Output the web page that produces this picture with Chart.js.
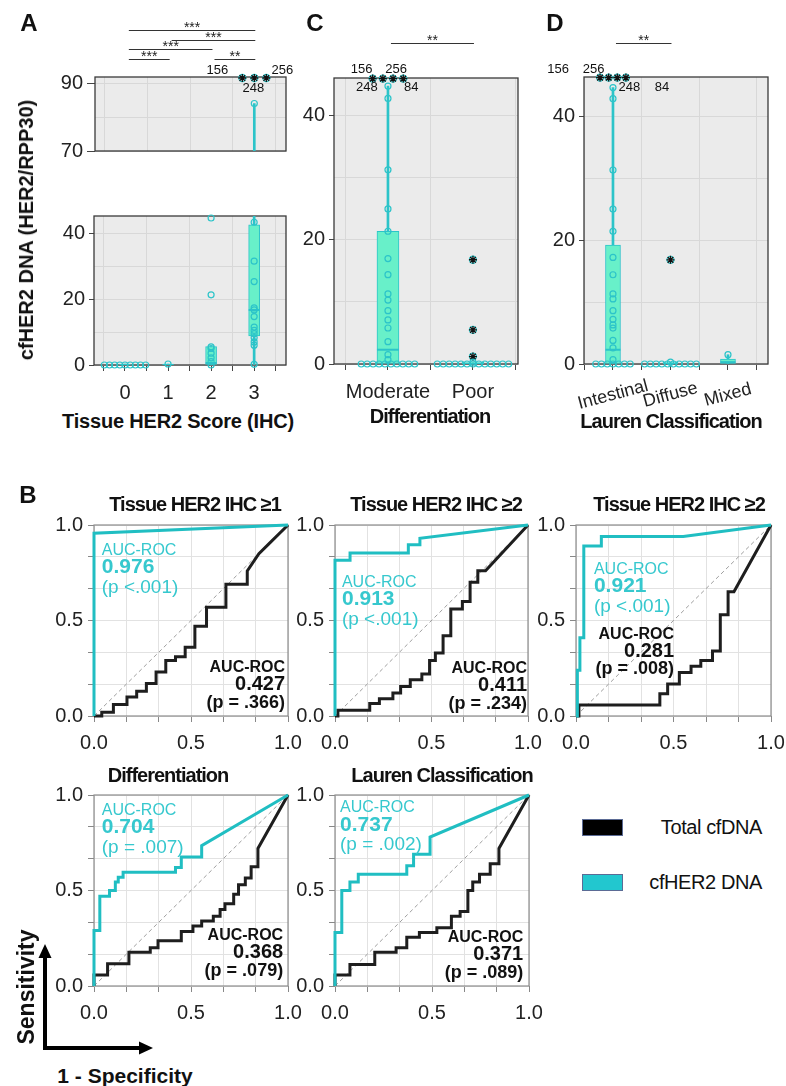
<!DOCTYPE html>
<html>
<head>
<meta charset="utf-8">
<script src="https://cdn.jsdelivr.net/npm/chart.js@4.4.1/dist/chart.umd.min.js"></script>
<style>
  html, body { margin: 0; padding: 0; background: #fff; }
  body { position: relative; width: 786px; height: 1086px; overflow: hidden; font-family: "Liberation Sans", Arial, sans-serif; color: #111; }
  canvas { position: absolute; }
  .lbl { position: absolute; white-space: nowrap; line-height: 1; transform: translate(-50%, -50%); }
</style>
</head>
<body>
<script>
// ===== Data: panel A (tissue HER2 score) =====
var A_CATS = ["0", "1", "2", "3"];
var A_Q1  = [0, 0, 0, 8.8];
var A_MED = [0, 0, 0.6, 16.7];
var A_Q3  = [0.3, 0.3, 5.6, 42.5];
var A_LO  = [0, 0, 0, 0];
var A_HI  = [0.3, 0.3, 5.6, 84];
var A_PTS = [
  [0, 0, 0, 0, 0, 0, 0, 0, 0],
  [0.3],
  [0, 1.0, 2.2, 3.6, 5.0, 5.5, 21.3, 44.6],
  [0.2, 6.0, 7.0, 8.3, 9.5, 10.5, 11.5, 14.7, 16.7, 17.3, 25.3, 31.5, 43.3, 84]
];
var A_EXT = [[], [], [], [91.5, 91.5, 91.5]];
var A_EXT_IDS = [[], [], [], ["156", "248", "256"]];
var A_SIG = [[0, 3, "***"], [1, 3, "***"], [0, 2, "***"], [0, 1, "***"], [2, 3, "**"]];
var A_X_TICKS = [-0.5, 0, 0.5, 1, 1.5, 2, 2.5, 3, 3.5];
var A_LOW_Y_TICKS = [0, 10, 20, 30, 40];
var A_LOW_Y_LABELS = ["0", "", "20", "", "40"];
var A_HIGH_Y_TICKS = [70, 80, 90];
var A_HIGH_Y_LABELS = ["70", "", "90"];

// ===== Data: panel C (differentiation) =====
var C_CATS = ["Moderate", "Poor"];
var C_Q1  = [0, 0];
var C_MED = [2.3, 0];
var C_Q3  = [21.4, 0.3];
var C_LO  = [0, 0];
var C_HI  = [44.8, 0.3];
var C_PTS = [
  [0, 0, 0, 0, 0, 0, 0, 0, 0, 0, 0.7, 1.5, 3.6, 5.8, 7.1, 8.6, 10.3, 11.3, 14.4, 17.0, 21.4, 25.0, 31.3, 42.8, 44.8],
  [0, 0, 0, 0, 0, 0, 0, 0, 0, 0, 0, 0, 0, 0.3]
];
var C_EXT = [[46, 46, 46, 46], [16.8, 5.5, 1.2]];
var C_EXT_IDS = [["156", "248", "256", "84"], []];
var C_SIG = [[0, 1, "**"]];
var C_X_TICKS = [-0.5, 0, 0.5, 1, 1.5];

// ===== Data: panel D (Lauren classification) =====
var D_CATS = ["Intestinal", "Diffuse", "Mixed"];
var D_Q1  = [0, 0, 0];
var D_MED = [2.3, 0, 0.3];
var D_Q3  = [19.2, 0.3, 0.8];
var D_LO  = [0, 0, 0];
var D_HI  = [44.6, 0.3, 1.5];
var D_PTS = [
  [0, 0, 0, 0, 0, 0, 0, 0.7, 2.6, 3.8, 5.8, 6.3, 7.2, 8.6, 10.5, 11.3, 14.4, 17.2, 21.4, 25.0, 31.3, 42.8, 44.6],
  [0, 0, 0, 0, 0, 0, 0, 0, 0, 0, 0.3],
  [1.5]
];
var D_EXT = [[46.2, 46.2, 46.2, 46.2], [16.8], []];
var D_EXT_IDS = [["156", "256", "248", "84"], [], []];
var D_SIG = [[0, 1, "**"]];
var D_X_TICKS = [-0.5, 0, 0.5, 1, 1.5, 2, 2.5];

var CD_Y_TICKS = [0, 10, 20, 30, 40];
var CD_Y_LABELS = ["0", "", "20", "", "40"];

// ===== Data: panel B (ROC curves) =====
var SERIES = ["Total cfDNA", "cfHER2 DNA"];
var ROC_TITLES = ["Tissue HER2 IHC \u22651", "Tissue HER2 IHC \u22652", "Tissue HER2 IHC \u22652", "Differentiation", "Lauren Classification"];
var AUC_CF  = [0.976, 0.913, 0.921, 0.704, 0.737];
var P_CF    = ["<.001", "<.001", "<.001", "= .007", "= .002"];
var AUC_TOT = [0.427, 0.411, 0.281, 0.368, 0.371];
var P_TOT   = ["= .366", "= .234", "= .008", "= .079", "= .089"];
var ROC_TICKS = [0, 1 / 6, 2 / 6, 0.5, 4 / 6, 5 / 6, 1];
var ROC_TICK_LABELS = ["0.0", "", "", "0.5", "", "", "1.0"];
var DIAG = [0, 1];

var CF_FPR = [
  [0, 0, 1],
  [0, 0, 0.078, 0.078, 0.38, 0.38, 0.44, 0.44, 1],
  [0, 0.007, 0.007, 0.02, 0.02, 0.04, 0.04, 0.13, 0.13, 0.55, 1],
  [0, 0, 0.03, 0.03, 0.08, 0.08, 0.11, 0.11, 0.125, 0.125, 0.15, 0.15, 0.42, 0.42, 0.45, 0.45, 0.555, 0.555, 1],
  [0, 0, 0.035, 0.035, 0.077, 0.077, 0.12, 0.12, 0.37, 0.37, 0.405, 0.405, 0.49, 0.49, 1]
];
var CF_TPR = [
  [0, 0.957, 1],
  [0, 0.816, 0.816, 0.854, 0.854, 0.897, 0.897, 0.93, 1],
  [0, 0, 0.24, 0.24, 0.41, 0.41, 0.89, 0.89, 0.94, 0.94, 1],
  [0, 0.29, 0.29, 0.47, 0.47, 0.5, 0.5, 0.545, 0.545, 0.57, 0.57, 0.595, 0.595, 0.62, 0.62, 0.675, 0.675, 0.735, 1],
  [0, 0.28, 0.28, 0.5, 0.5, 0.545, 0.545, 0.585, 0.585, 0.63, 0.63, 0.69, 0.69, 0.78, 1]
];
var TOT_FPR = [
  [0, 0.04, 0.04, 0.1, 0.1, 0.17, 0.17, 0.22, 0.22, 0.27, 0.27, 0.32, 0.32, 0.37, 0.37, 0.42, 0.42, 0.47, 0.47, 0.52, 0.52, 0.58, 0.58, 0.68, 0.68, 0.79, 0.79, 0.85, 0.9, 1],
  [0, 0.015, 0.015, 0.18, 0.18, 0.23, 0.23, 0.3, 0.3, 0.34, 0.34, 0.39, 0.39, 0.45, 0.45, 0.49, 0.49, 0.52, 0.52, 0.56, 0.56, 0.6, 0.6, 0.66, 0.66, 0.7, 0.7, 0.74, 0.74, 0.78, 1],
  [0, 0.015, 0.015, 0.43, 0.43, 0.47, 0.47, 0.53, 0.53, 0.59, 0.59, 0.64, 0.64, 0.7, 0.7, 0.74, 0.74, 0.78, 0.78, 0.81, 1],
  [0, 0, 0.07, 0.07, 0.18, 0.18, 0.29, 0.29, 0.33, 0.33, 0.45, 0.45, 0.51, 0.51, 0.555, 0.555, 0.615, 0.615, 0.65, 0.65, 0.675, 0.675, 0.72, 0.72, 0.745, 0.745, 0.78, 0.78, 0.81, 0.81, 0.845, 0.845, 1],
  [0, 0, 0.077, 0.077, 0.205, 0.205, 0.315, 0.315, 0.37, 0.37, 0.435, 0.435, 0.525, 0.525, 0.6, 0.6, 0.645, 0.645, 0.685, 0.685, 0.71, 0.71, 0.745, 0.745, 0.8, 0.8, 0.845, 0.845, 1]
];
var TOT_TPR = [
  [0, 0, 0.02, 0.02, 0.06, 0.06, 0.1, 0.1, 0.13, 0.13, 0.17, 0.17, 0.23, 0.23, 0.29, 0.29, 0.31, 0.31, 0.36, 0.36, 0.47, 0.47, 0.57, 0.57, 0.69, 0.69, 0.76, 0.85, 0.9, 1],
  [0, 0, 0.03, 0.03, 0.065, 0.065, 0.09, 0.09, 0.12, 0.12, 0.155, 0.155, 0.19, 0.19, 0.22, 0.22, 0.29, 0.29, 0.33, 0.33, 0.42, 0.42, 0.56, 0.56, 0.6, 0.6, 0.7, 0.7, 0.76, 0.76, 1],
  [0, 0, 0.057, 0.057, 0.117, 0.117, 0.168, 0.168, 0.228, 0.228, 0.26, 0.26, 0.29, 0.29, 0.34, 0.34, 0.53, 0.53, 0.65, 0.65, 1],
  [0, 0.057, 0.057, 0.117, 0.117, 0.177, 0.177, 0.2, 0.2, 0.237, 0.237, 0.285, 0.285, 0.314, 0.314, 0.34, 0.34, 0.365, 0.365, 0.4, 0.4, 0.43, 0.43, 0.48, 0.48, 0.53, 0.53, 0.565, 0.565, 0.625, 0.625, 0.72, 1],
  [0, 0.057, 0.057, 0.113, 0.113, 0.177, 0.177, 0.2, 0.2, 0.255, 0.255, 0.28, 0.28, 0.305, 0.305, 0.365, 0.365, 0.39, 0.39, 0.5, 0.5, 0.545, 0.545, 0.585, 0.585, 0.64, 0.64, 0.72, 1]
];

// ===== Styles =====
var FONT = "'Liberation Sans', Arial, sans-serif";
var CYAN = "#2CC4C9", CYAN_LINE = "#20BEC2", CYAN_TXT = "#36C8CE";
var BOX_FILL = "#68F0C9", PANEL_BG = "#EBEBEB", BOX_GRID = "#D8D8D8", ROC_GRID = "#E2E2E2";
Chart.defaults.font.family = FONT;
Chart.defaults.color = "#222";
Chart.defaults.animation = false;
Chart.defaults.plugins.legend.display = false;
Chart.defaults.plugins.tooltip.enabled = false;

function mkCanvas(box, m) {
  var c = document.createElement("canvas");
  c.width = box.w + m.l + m.r;
  c.height = box.h + m.t + m.b;
  c.style.left = (box.x - m.l) + "px";
  c.style.top = (box.y - m.t) + "px";
  c.style.width = c.width + "px";
  c.style.height = c.height + "px";
  document.body.appendChild(c);
  return c;
}

function txt(s, x, y, css, rot) {
  var d = document.createElement("div");
  d.className = "lbl";
  d.textContent = s;
  d.style.cssText += "left:" + x + "px;top:" + y + "px;" + (css || "");
  if (rot) d.style.transform = "translate(-50%,-50%) rotate(" + rot + "deg)";
  document.body.appendChild(d);
  return d;
}

// spread equal values side by side around the category centre
function swarm(vals, center, step) {
  var counts = {}, seen = {};
  vals.forEach(function (v) { counts[v] = (counts[v] || 0) + 1; });
  return vals.map(function (v) {
    seen[v] = seen[v] === undefined ? 0 : seen[v] + 1;
    return { x: center + (seen[v] - (counts[v] - 1) / 2) * step, y: v };
  });
}

function toXY(xs, ys) {
  return xs.map(function (x, i) { return { x: x, y: ys[i] }; });
}

// ===== Plugins =====
var framePlugin = {
  id: "frame",
  beforeDraw: function (chart, a, o) {
    if (!o.bg) return;
    var ar = chart.chartArea, ctx = chart.ctx;
    ctx.save();
    ctx.fillStyle = o.bg;
    ctx.fillRect(ar.left, ar.top, ar.right - ar.left, ar.bottom - ar.top);
    ctx.restore();
  },
  beforeDatasetsDraw: function (chart, a, o) {
    if (!o.color) return;
    var ar = chart.chartArea, ctx = chart.ctx;
    ctx.save();
    ctx.strokeStyle = o.color;
    ctx.lineWidth = o.width || 1;
    ctx.strokeRect(ar.left, ar.top, ar.right - ar.left, ar.bottom - ar.top);
    ctx.restore();
  }
};

var sigPlugin = {
  id: "sig",
  afterDraw: function (chart, a, o) {
    if (!o.pairs) return;
    var ctx = chart.ctx, xs = chart.scales.x, top = chart.chartArea.top;
    ctx.save();
    ctx.strokeStyle = "#333";
    ctx.fillStyle = "#222";
    ctx.lineWidth = 1;
    ctx.font = "14px " + FONT;
    ctx.textAlign = "center";
    ctx.textBaseline = "alphabetic";
    o.pairs.forEach(function (p, k) {
      var x1 = xs.getPixelForValue(p[0]) + 3, x2 = xs.getPixelForValue(p[1]) + 1, y = top + o.levels[k];
      ctx.beginPath();
      ctx.moveTo(x1, y + 0.5);
      ctx.lineTo(x2, y + 0.5);
      ctx.stroke();
      ctx.fillText(p[2], (x1 + x2) / 2, y + 2);
    });
    ctx.restore();
  }
};

var extPlugin = {
  id: "ext",
  afterDraw: function (chart, a, o) {
    if (!o.offsets) return;
    var ctx = chart.ctx, xs = chart.scales.x, ys = chart.scales.y, k = 0;
    ctx.save();
    ctx.font = "13px " + FONT;
    ctx.fillStyle = "#111";
    ctx.textAlign = "center";
    ctx.textBaseline = "middle";
    chart.data.datasets[1].data.forEach(function (p) {
      if (!p.id) return;
      var off = o.offsets[k++] || [0, -10];
      ctx.fillText(p.id, xs.getPixelForValue(p.x) + off[0], ys.getPixelForValue(p.y) + off[1]);
    });
    ctx.restore();
  }
};

var rotPlugin = {
  id: "rot",
  afterDraw: function (chart, a, o) {
    if (!o.labels) return;
    var ctx = chart.ctx, xs = chart.scales.x, b = chart.chartArea.bottom;
    ctx.save();
    ctx.font = "18px " + FONT;
    ctx.fillStyle = "#222";
    ctx.textAlign = "center";
    ctx.textBaseline = "middle";
    o.labels.forEach(function (s, i) {
      ctx.save();
      ctx.translate(xs.getPixelForValue(i), b + o.dy);
      ctx.rotate(o.angle * Math.PI / 180);
      ctx.fillText(s, 0, 0);
      ctx.restore();
    });
    ctx.restore();
  }
};

var aucPlugin = {
  id: "auc",
  afterDatasetsDraw: function (chart, a, o) {
    if (o.k === undefined) return;
    var ctx = chart.ctx, xs = chart.scales.x, ys = chart.scales.y, k = o.k;
    var cx = xs.getPixelForValue(o.cf[0]), cy = ys.getPixelForValue(o.cf[1]);
    var tx = xs.getPixelForValue(o.tot[0]), ty = ys.getPixelForValue(o.tot[1]);
    ctx.save();
    ctx.textBaseline = "middle";
    ctx.fillStyle = CYAN_TXT;
    ctx.textAlign = "left";
    ctx.font = "16px " + FONT;
    ctx.fillText("AUC-ROC", cx, cy);
    ctx.font = "bold 21px " + FONT;
    ctx.fillText(AUC_CF[k].toFixed(3), cx, cy + 17);
    ctx.font = "19px " + FONT;
    ctx.fillText("(p " + P_CF[k] + ")", cx, cy + 37);
    ctx.fillStyle = "#111";
    ctx.textAlign = "right";
    ctx.font = "bold 16px " + FONT;
    ctx.fillText("AUC-ROC", tx, ty);
    ctx.font = "bold 20px " + FONT;
    ctx.fillText(AUC_TOT[k].toFixed(3), tx, ty + 17);
    ctx.font = "bold 18px " + FONT;
    ctx.fillText("(p " + P_TOT[k] + ")", tx, ty + 35);
    ctx.restore();
  }
};

Chart.register(framePlugin, sigPlugin, extPlugin, rotPlugin, aucPlugin);

// ===== Box plot builder =====
function boxChart(box, m, cfg) {
  var canvas = mkCanvas(box, m);
  var pts = [], ext = [], boxes = [], whisk = [], meds = [];
  cfg.cats.forEach(function (c, i) {
    pts = pts.concat(swarm(cfg.pts[i], i, cfg.step));
    var vis = [], ids = [];
    cfg.ext[i].forEach(function (v, k) {
      if (v >= cfg.yMin && v <= cfg.yMax) { vis.push(v); ids.push(cfg.extIds[i][k]); }
    });
    swarm(vis, i, cfg.extStep).forEach(function (p, k) { p.id = ids[k]; ext.push(p); });
    boxes.push({ x: i, y: [cfg.q1[i], cfg.q3[i]] });
    whisk.push({ x: i, y: [cfg.lo[i], cfg.hi[i]] });
    meds.push({ x: i, y: cfg.med[i] });
  });

  return new Chart(canvas, {
    type: "bar",
    data: {
      datasets: [
        { type: "scatter", data: pts, pointStyle: "circle", pointRadius: 3, pointBorderWidth: 1.2, pointBorderColor: CYAN, pointBackgroundColor: "rgba(0,0,0,0)", clip: 4, order: 0 },
        { type: "scatter", data: ext, pointStyle: "star", pointRadius: 4, pointBorderWidth: 1.3, pointBorderColor: "#111", clip: false, order: 0 },
        { type: "scatter", data: ext, pointStyle: "circle", pointRadius: 3.5, pointBorderWidth: 1.3, pointBorderColor: CYAN, pointBackgroundColor: "rgba(0,0,0,0)", clip: false, order: 0 },
        { type: "scatter", data: meds, pointStyle: "line", pointRadius: cfg.boxW / 2, pointBorderWidth: 2, pointBorderColor: CYAN, order: 1 },
        { type: "bar", data: boxes, barThickness: cfg.boxW, backgroundColor: BOX_FILL, borderColor: CYAN, borderWidth: 1, borderSkipped: false, stack: "s", order: 2 },
        { type: "bar", data: whisk, barThickness: 2, backgroundColor: CYAN, borderWidth: 0, stack: "s", order: 3 }
      ]
    },
    options: {
      responsive: false,
      devicePixelRatio: 1,
      layout: { padding: { left: 0, right: m.r, top: m.t, bottom: 0 } },
      plugins: {
        frame: { bg: PANEL_BG, color: "#3A3A3A", width: 1.3 },
        sig: cfg.sig ? { pairs: cfg.sig, levels: cfg.sigLevels } : {},
        ext: cfg.extOffsets ? { offsets: cfg.extOffsets } : {},
        rot: cfg.rotLabels ? { labels: cfg.cats, angle: -15, dy: 31 } : {}
      },
      scales: {
        x: {
          type: "linear", min: cfg.xMin, max: cfg.xMax, offset: false,
          afterBuildTicks: function (s) { s.ticks = cfg.xTicks.map(function (v) { return { value: v }; }); },
          afterFit: function (s) { s.height = m.b; },
          border: { display: false },
          grid: {
            offset: false, drawTicks: cfg.xTickMarks, tickLength: 6, tickColor: "#444",
            color: function (c) { return c.tick && Math.abs(c.tick.value % 1) === 0.5 ? BOX_GRID : "rgba(0,0,0,0)"; }
          },
          ticks: {
            autoSkip: false, maxRotation: 0, minRotation: 0, padding: 10, font: { size: 20 }, color: "#222",
            callback: function (v) { return cfg.showCats && v % 1 === 0 ? cfg.cats[v] : ""; }
          }
        },
        y: {
          type: "linear", min: cfg.yMin, max: cfg.yMax, stacked: false,
          afterBuildTicks: function (s) { s.ticks = cfg.yTicks.map(function (v) { return { value: v }; }); },
          afterFit: function (s) { s.width = m.l; },
          border: { display: false },
          grid: {
            tickLength: cfg.yTickLen, color: BOX_GRID,
            tickColor: function (c) { return cfg.yLabels[c.index] ? "#444" : "rgba(0,0,0,0)"; }
          },
          ticks: { padding: 4, font: { size: 20 }, color: "#222", callback: function (v, i) { return cfg.yLabels[i]; } }
        }
      }
    }
  });
}

// ===== ROC builder =====
var ROC_M = { l: 56, r: 28, t: 14, b: 42 };
function rocChart(box, k, ann) {
  var canvas = mkCanvas(box, ROC_M);
  function axis(fit) {
    return {
      type: "linear", min: 0, max: 1,
      afterBuildTicks: function (s) { s.ticks = ROC_TICKS.map(function (v) { return { value: v }; }); },
      afterFit: fit,
      border: { display: false },
      grid: { color: ROC_GRID, tickColor: "#888", tickLength: 6 },
      ticks: { autoSkip: false, maxRotation: 0, font: { size: 20 }, color: "#222", callback: function (v, i) { return ROC_TICK_LABELS[i]; } }
    };
  }
  var x = axis(function (s) { s.height = ROC_M.b; });
  x.ticks.padding = 9;
  var y = axis(function (s) { s.width = ROC_M.l; });
  y.ticks.padding = 5;
  return new Chart(canvas, {
    type: "scatter",
    data: {
      datasets: [
        { label: SERIES[1], data: toXY(CF_FPR[k], CF_TPR[k]), showLine: true, borderColor: CYAN_LINE, borderWidth: 3, pointRadius: 0, clip: 3, order: 0 },
        { label: SERIES[0], data: toXY(TOT_FPR[k], TOT_TPR[k]), showLine: true, borderColor: "#1E1E1E", borderWidth: 3, pointRadius: 0, clip: 3, order: 1 },
        { label: "ref", data: toXY(DIAG, DIAG), showLine: true, borderColor: "#9E9E9E", borderWidth: 1, borderDash: [4, 3], pointRadius: 0, order: 2 }
      ]
    },
    options: {
      responsive: false,
      devicePixelRatio: 1,
      layout: { padding: { left: 0, right: ROC_M.r, top: ROC_M.t, bottom: 0 } },
      plugins: {
        frame: { color: "#8C8C8C", width: 1.2 },
        auc: { k: k, cf: ann.cf, tot: ann.tot }
      },
      scales: { x: x, y: y }
    }
  });
}

// ===== Panel A =====
var aCfg = {
  cats: A_CATS, q1: A_Q1, med: A_MED, q3: A_Q3, lo: A_LO, hi: A_HI, pts: A_PTS, ext: A_EXT, extIds: A_EXT_IDS,
  xMin: -0.72, xMax: 3.74, xTicks: A_X_TICKS, step: 0.12, extStep: 0.28, boxW: 11
};
boxChart({ x: 95, y: 77, w: 191, h: 74 }, { l: 60, r: 45, t: 77, b: 16 }, Object.assign({}, aCfg, {
  yMin: 70, yMax: 91.8, yTicks: A_HIGH_Y_TICKS, yLabels: A_HIGH_Y_LABELS, yTickLen: 8,
  showCats: false, xTickMarks: false,
  sig: A_SIG, sigLevels: [-47, -37, -28, -18, -18],
  extOffsets: [[-25, -8], [-1, 10], [16, -8]]
}));
boxChart({ x: 94, y: 214, w: 192, h: 151 }, { l: 60, r: 20, t: 14, b: 40 }, Object.assign({}, aCfg, {
  yMin: 0, yMax: 45.2, yTicks: A_LOW_Y_TICKS, yLabels: A_LOW_Y_LABELS, yTickLen: 5,
  showCats: true, xTickMarks: true
}));

// ===== Panel C =====
boxChart({ x: 334, y: 78, w: 184, h: 286 }, { l: 60, r: 22, t: 78, b: 40 }, {
  cats: C_CATS, q1: C_Q1, med: C_MED, q3: C_Q3, lo: C_LO, hi: C_HI, pts: C_PTS, ext: C_EXT, extIds: C_EXT_IDS,
  xMin: -0.635, xMax: 1.53, xTicks: C_X_TICKS, step: 0.07, extStep: 0.12, boxW: 22,
  yMin: 0, yMax: 46.1, yTicks: CD_Y_TICKS, yLabels: CD_Y_LABELS, yTickLen: 5,
  showCats: true, xTickMarks: true,
  sig: C_SIG, sigLevels: [-35],
  extOffsets: [[-11, -9], [-16, 9], [3, -9], [8, 9]]
});

// ===== Panel D =====
boxChart({ x: 584, y: 77, w: 184, h: 287 }, { l: 60, r: 16, t: 77, b: 60 }, {
  cats: D_CATS, q1: D_Q1, med: D_MED, q3: D_Q3, lo: D_LO, hi: D_HI, pts: D_PTS, ext: D_EXT, extIds: D_EXT_IDS,
  xMin: -0.504, xMax: 2.696, xTicks: D_X_TICKS, step: 0.1, extStep: 0.15, boxW: 15,
  yMin: 0, yMax: 46.3, yTicks: CD_Y_TICKS, yLabels: CD_Y_LABELS, yTickLen: 5,
  showCats: false, xTickMarks: true, rotLabels: true,
  sig: D_SIG, sigLevels: [-34],
  extOffsets: [[-42, -8], [-15, -8], [12, 10], [36, 10]]
});

// ===== Panel B =====
var ROC_BOXES = [
  { x: 94, y: 522, w: 194, h: 194 },
  { x: 335, y: 522, w: 193, h: 194 },
  { x: 576, y: 522, w: 195, h: 194 },
  { x: 94, y: 792, w: 194, h: 194 },
  { x: 335, y: 792, w: 194, h: 194 }
];
var ROC_ANN = [
  { cf: [0.04, 0.866], tot: [0.985, 0.253] },
  { cf: [0.036, 0.70], tot: [0.995, 0.247] },
  { cf: [0.092, 0.768], tot: [0.503, 0.428] },
  { cf: [0.04, 0.918], tot: [0.975, 0.263] },
  { cf: [0.026, 0.933], tot: [0.97, 0.253] }
];
var ROC_TITLE_POS = [[195, 504], [436, 504], [679, 504], [168, 775], [442, 775]];
ROC_BOXES.forEach(function (b, k) {
  rocChart(b, k, ROC_ANN[k]);
  txt(ROC_TITLES[k], ROC_TITLE_POS[k][0], ROC_TITLE_POS[k][1], "font-size:20px;font-weight:700;letter-spacing:-1px;color:#111;");
});

// ===== Labels =====
var LETTER = "font-size:24px;font-weight:700;color:#111;";
txt("A", 29, 23, LETTER);
txt("C", 315, 23, LETTER);
txt("D", 555, 23, LETTER);
txt("B", 28, 495, LETTER);
txt("cfHER2 DNA (HER2/RPP30)", 26, 230, "font-size:20px;font-weight:700;", -90);
txt("Tissue HER2 Score (IHC)", 178, 421, "font-size:20px;font-weight:700;letter-spacing:-0.2px;");
txt("Differentiation", 430, 416, "font-size:20px;font-weight:700;letter-spacing:-1px;");
txt("Lauren Classification", 671, 421, "font-size:20px;font-weight:700;letter-spacing:-1px;");
txt("Sensitivity", 26, 987, "font-size:23px;font-weight:700;", -90);
txt("1 - Specificity", 125, 1075, "font-size:21px;font-weight:700;");

// legend
var LEG_FILL = ["#000000", "#22C7CF"];
var LEG_Y = [827, 882];
SERIES.forEach(function (s, i) {
  var r = document.createElement("div");
  r.style.cssText = "position:absolute;left:582px;top:" + (LEG_Y[i] - 8) + "px;width:39px;height:15px;background:" + LEG_FILL[i] + ";border:1px solid #5B6B95;";
  document.body.appendChild(r);
  var t = txt(s, 0, LEG_Y[i], "font-size:20px;color:#111;letter-spacing:-0.4px;");
  t.style.left = "auto";
  t.style.right = (786 - 762) + "px";
  t.style.transform = "translateY(-50%)";
});

// axis arrows
var svgNS = "http://www.w3.org/2000/svg";
var svg = document.createElementNS(svgNS, "svg");
svg.setAttribute("width", "200");
svg.setAttribute("height", "140");
svg.style.cssText = "position:absolute;left:0;top:930px;";
svg.innerHTML =
  "<line x1='45' y1='120' x2='45' y2='25' stroke='#000' stroke-width='4'/>" +
  "<polygon points='45,14 38.5,28 51.5,28' fill='#000'/>" +
  "<line x1='43' y1='118' x2='141' y2='118' stroke='#000' stroke-width='4'/>" +
  "<polygon points='153,118 139,111.5 139,124.5' fill='#000'/>";
document.body.appendChild(svg);
</script>
</body>
</html>
